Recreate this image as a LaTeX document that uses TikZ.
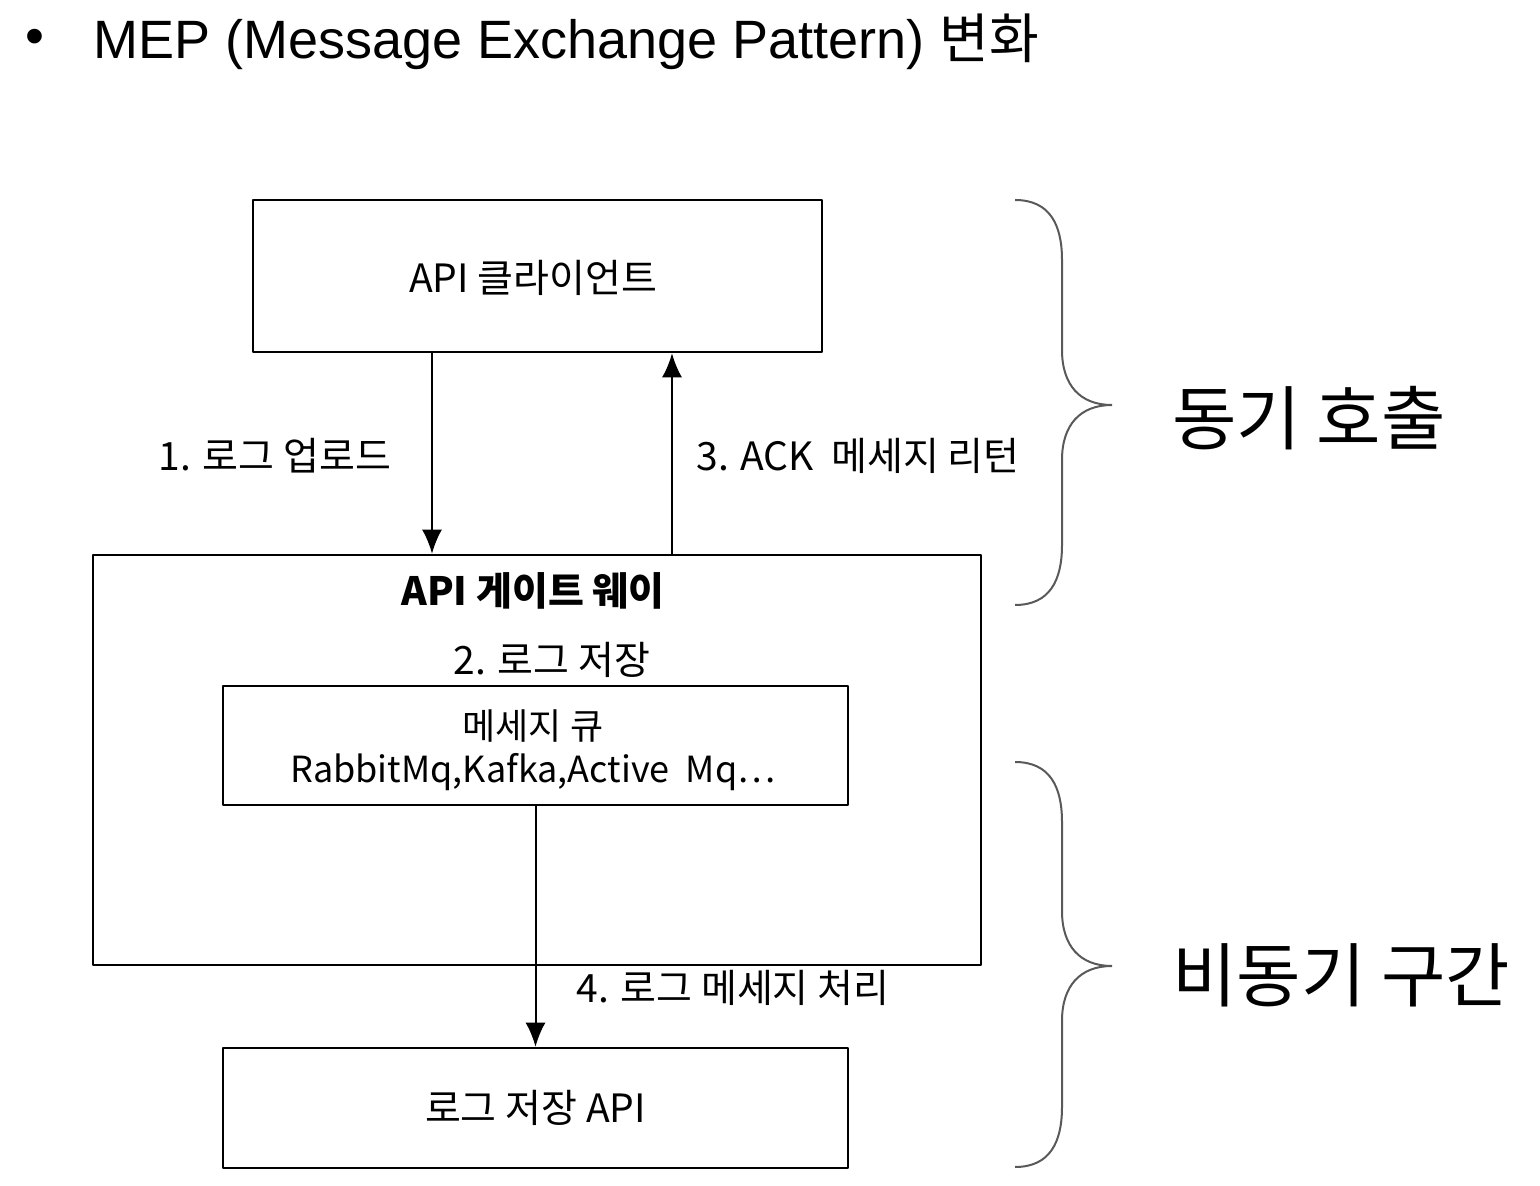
\documentclass[tikz,border=0pt]{standalone}
\usepackage{fontspec}
\usetikzlibrary{arrows.meta}
\newfontfamily\cjk{Noto Sans CJK KR}
\newfontfamily\titlefont{Liberation Sans}
\tikzset{
  box/.style={draw,line width=1.3bp,inner sep=0pt},
  lbl/.style={font=\cjk\fontsize{19.5bp}{25bp}\selectfont,inner sep=0pt},
  side/.style={font=\cjk\fontsize{35bp}{40bp}\selectfont,inner sep=0pt,anchor=west},
  brace/.style={draw=black!65,line width=1bp},
  flow/.style={line width=1bp,->},
}
\begin{document}
\begin{tikzpicture}[x=0.5bp,y=-0.5bp,>={Latex[length=12bp,width=10bp]},line join=bevel]
\useasboundingbox (0,0) rectangle (1540,1186);
%%
\node (bullet) at (35,42) [font=\titlefont\fontsize{27bp}{32bp}\selectfont] {•};
\node (title) at (93,42) [anchor=west,inner sep=0pt,font=\titlefont\fontsize{27bp}{32bp}\selectfont] {MEP (Message Exchange Pattern) {\cjk 변화}};
%
\node (client) at (537.5,276) [box,minimum width=284.5bp,minimum height=76bp] {};
  \node (client_txt) at (533,278) [lbl] {API 클라이언트};
  \node (gateway) at (537,760) [box,minimum width=444bp,minimum height=205bp] {};
  \node (gateway_txt) at (533,591) [lbl,font=\cjk\bfseries\fontsize{19.5bp}{25bp}\selectfont] {API 게이트 웨이};
  \node (queue) at (535.5,745.5) [box,minimum width=312.5bp,minimum height=59.5bp] {};
  \node (queue_txt) at (533,750) [lbl,align=center,font=\cjk\fontsize{18bp}{21.5bp}\selectfont] {메세지 큐\\RabbitMq,Kafka,Active~~Mq…};
  \node (storage) at (535.5,1108) [box,minimum width=312.5bp,minimum height=60bp,lbl] {로그 저장 API};
%
\coordinate (up_x) at (432,0);
  \coordinate (ack_x) at (672,0);
  \draw [flow] (client.south -| up_x) -- (gateway.north -| up_x);
  \draw [flow] (gateway.north -| ack_x) -- (client.south -| ack_x);
  \draw [flow] (queue.south) -- (storage.north);
%
\node (step_1) at (275,456) [lbl] {1. 로그 업로드};
  \node (step_3) at (858,456) [lbl] {3. ACK~~메세지 리턴};
  \node (step_2) at (552,660) [lbl] {2. 로그 저장};
  \node (step_4) at (733,988) [lbl] {4. 로그 메세지 처리};
%
\foreach \t/\m/\b in {200/405/605, 762/966/1167}
  \draw [brace] (1015,\t) .. controls (1050,\t) and (1062,\t+25) .. (1062,\t+60) -- (1062,\m-55)
    .. controls (1062,\m-20) and (1080,\m) .. (1112,\m)
    .. controls (1080,\m) and (1062,\m+20) .. (1062,\m+55) -- (1062,\b-60)
    .. controls (1062,\b-25) and (1050,\b) .. (1015,\b);
\node (sync) at (1172,418) [side] {동기 호출};
  \node (async) at (1172,975) [side] {비동기 구간};
%
\end{tikzpicture}
\end{document}
